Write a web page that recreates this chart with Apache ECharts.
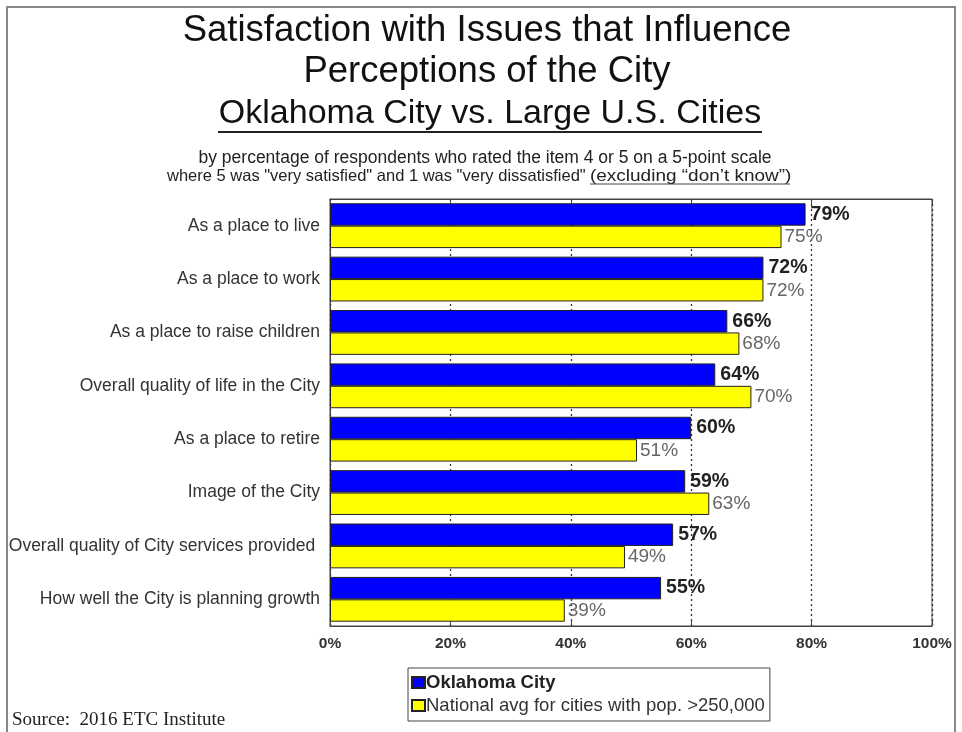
<!DOCTYPE html>
<html><head><meta charset="utf-8">
<script src="https://cdn.jsdelivr.net/npm/echarts@6/dist/echarts.min.js"></script>
<style>html,body{margin:0;padding:0;background:#fff}#c{width:962px;height:732px}</style>
</head><body><div id="c"></div>
<script>
var categories = ["As a place to live","As a place to work","As a place to raise children","Overall quality of life in the City","As a place to retire","Image of the City","Overall quality of City services provided ","How well the City is planning growth"];
var okcValues = [79,72,66,64,60,59,57,55];
var nationalValues = [75,72,68,70,51,63,49,39];
var seriesNames = ["Oklahoma City","National avg for cities with pop. >250,000"];
var xTicks = [0,20,40,60,80,100];

var chart = echarts.init(document.getElementById('c'), null, {renderer:'canvas'});
var F = 'Liberation Sans, Arial, sans-serif';
function txt(s, x, y, fs, opts){
  opts = opts || {};
  return {type:'text', x:x, y:y, scaleX:opts.sx||1, silent:true,
    style:{text:s, fontSize:fs, fontFamily:opts.ff||F, fill:opts.fill||'#111', fontWeight:opts.fw||'normal',
      align:opts.align||'center', verticalAlign:'middle'}};
}
chart.setOption({
  animation:false,
  backgroundColor:'#fff',
  textStyle:{fontFamily:F},
  grid:{left:330, top:199, right:30, bottom:106, show:true, borderColor:'#444', borderWidth:1, containLabel:false},
  legend:{
    data:seriesNames, orient:'vertical', left:408, top:668,
    padding:[5,5,6,3], itemGap:4, itemWidth:13, itemHeight:11,
    borderColor:'#444', borderWidth:1, icon:'rect',
    formatter:function(n){ return n===seriesNames[0] ? '{b|'+n+'}' : '{n|'+n+'}'; },
    textStyle:{fontFamily:F, padding:[0,0,0,-4], rich:{
      b:{fontSize:18.5, fontWeight:'bold', color:'#222', fontFamily:F, lineHeight:22},
      n:{fontSize:18.5, color:'#333', fontFamily:F, lineHeight:22}
    }}
  },
  xAxis:[{
    type:'value', min:0, max:100, interval:20, position:'bottom',
    axisLine:{show:true, lineStyle:{color:'#444'}},
    axisTick:{show:true, inside:true, length:5, lineStyle:{color:'#444'}},
    axisLabel:{formatter:function(v){return v+'%';}, fontWeight:'bold', fontSize:15.5, color:'#333', margin:10, fontFamily:F},
    splitLine:{show:true, lineStyle:{type:[2,3], color:'#333', width:1.3}}
  },{
    type:'value', min:0, max:100, interval:20, position:'top',
    axisLine:{show:true, lineStyle:{color:'#444'}},
    axisTick:{show:true, inside:true, length:5, lineStyle:{color:'#444'}},
    axisLabel:{show:false}, splitLine:{show:false}
  }],
  yAxis:{
    type:'category', data:categories, inverse:true,
    axisLine:{show:true, lineStyle:{color:'#444'}},
    axisTick:{show:false},
    axisLabel:{fontSize:17.5, color:'#333', margin:10, fontFamily:F}
  },
  series:[{
    name:seriesNames[0], type:'bar', data:okcValues, xAxisIndex:0,
    barGap:'0%', barCategoryGap:'16%',
    itemStyle:{color:'#0000ff', borderColor:'#222', borderWidth:1},
    label:{show:true, position:'right', distance:5, formatter:'{c}%', fontSize:19.5, fontWeight:'bold', color:'#222', fontFamily:F}
  },{
    name:seriesNames[1], type:'bar', data:nationalValues, xAxisIndex:0,
    barGap:'0%', barCategoryGap:'16%',
    itemStyle:{color:'#ffff00', borderColor:'#222', borderWidth:1},
    label:{show:true, position:'right', distance:3, formatter:'{c}%', fontSize:19, color:'#666', fontFamily:F}
  }],
  graphic:[
    {type:'rect', shape:{x:7, y:7, width:948, height:740}, style:{fill:'none', stroke:'#888', lineWidth:2}, silent:true},
    txt('Satisfaction with Issues that Influence', 487, 31, 36.5),
    txt('Perceptions of the City', 487, 72, 36.5),
    txt('Oklahoma City vs. Large U.S. Cities', 490, 114, 34),
    {type:'line', shape:{x1:218, y1:132, x2:762, y2:132}, style:{stroke:'#222', lineWidth:2}, silent:true},
    txt('by percentage of respondents who rated the item 4 or 5 on a 5-point scale', 485, 158, 17.5, {fill:'#222'}),
    txt('where 5 was "very satisfied" and 1 was "very dissatisfied"', 167, 176, 16.5, {fill:'#222', align:'left'}),
    txt('(excluding \u201cdon\u2019t know\u201d)', 590, 176, 16.5, {fill:'#222', align:'left', sx:1.15}),
    {type:'line', shape:{x1:590, y1:184, x2:790, y2:184}, style:{stroke:'#444', lineWidth:1}, silent:true},
    txt('Source:  2016 ETC Institute', 12, 720, 19, {ff:'Liberation Serif, Times New Roman, serif', fill:'#222', align:'left'})
  ]
});
</script></body></html>
